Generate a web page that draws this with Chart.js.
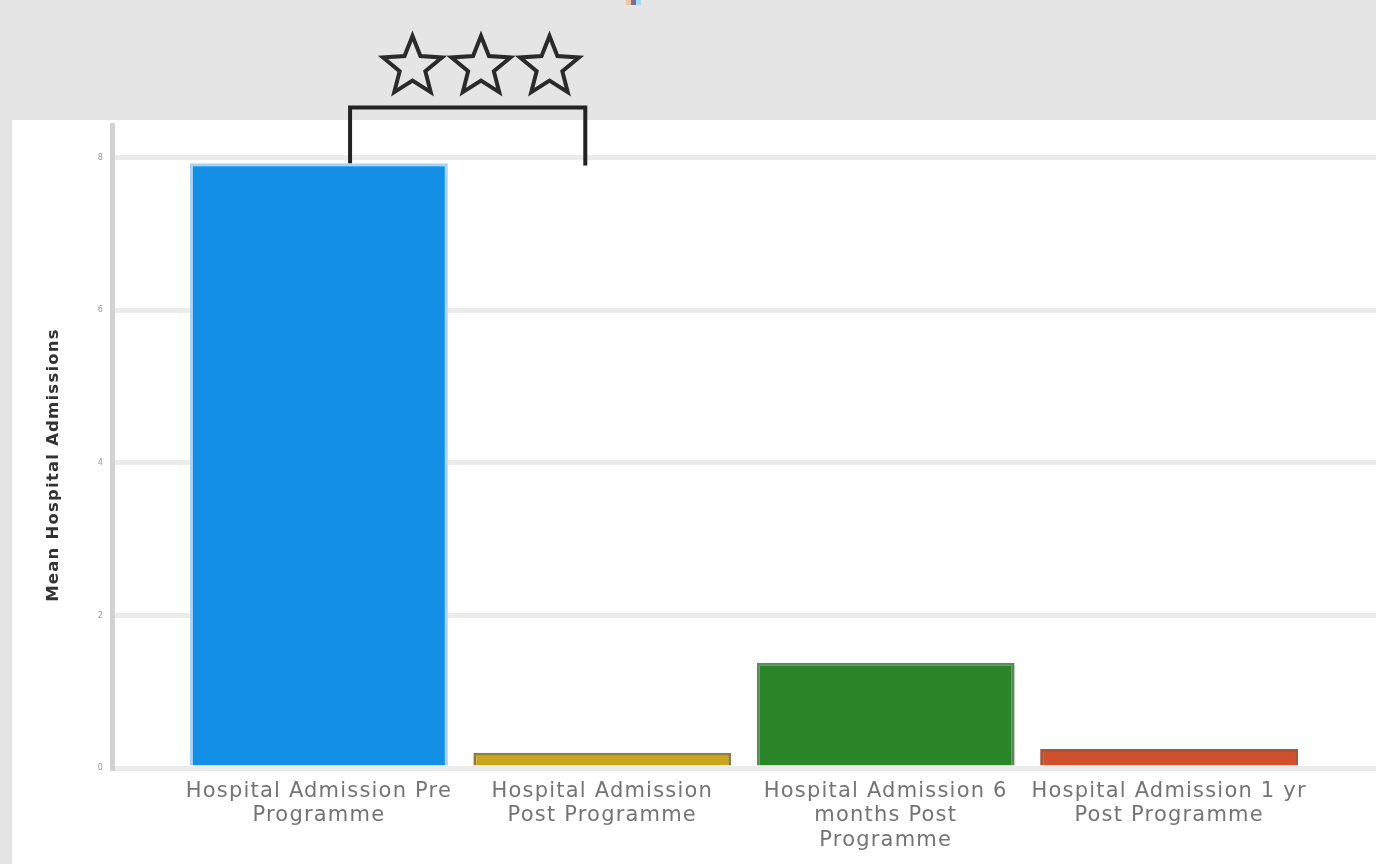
<!DOCTYPE html>
<html><head><meta charset="utf-8">
<script src="https://cdn.jsdelivr.net/npm/chart.js@4/dist/chart.umd.min.js"></script>
<style>html,body{margin:0;padding:0;background:#e5e5e5;overflow:hidden}#wrap{width:1376px;height:864px;position:relative}</style>
</head><body><div id="wrap"><canvas id="c" width="1376" height="864"></canvas></div>
<script>
const categories = [
  ["Hospital Admission Pre", "Programme"],
  ["Hospital Admission", "Post Programme"],
  ["Hospital Admission 6", "months Post", "Programme"],
  ["Hospital Admission 1 yr", "Post Programme"]
];
const meanAdmissions = [7.93, 0.2, 1.38, 0.25];
const barColors = ['#1390e6', '#c9a51c', '#2a8528', '#d04f2c'];
const barBorders = ['#a6d3f7', '#8d7d3e', '#5b8a5b', '#a8553e'];
const yTicks = [0, 2, 4, 6, 8];
const yTitle = 'Mean Hospital Admissions';
// significance bracket (data units) between group 0 and group 1
const bracketX = [0.11, 0.94];
const bracketY = [8.66, 7.93, 7.90]; // top, left leg end, right leg end
const starCentre = [0.572, 9.19];
const starCount = 3;

const decor = {
  id: 'decor',
  beforeDraw(chart) {
    const ctx = chart.ctx;
    ctx.save();
    ctx.fillStyle = '#e5e5e5';
    ctx.fillRect(0, 0, chart.width, chart.height);
    ctx.fillStyle = '#ffffff';
    ctx.fillRect(12, 120, chart.width - 12, chart.height - 120);
    // clipped legend remnant at top
    ctx.fillStyle = '#e9c99c'; ctx.fillRect(626, 0, 5, 5);
    ctx.fillStyle = '#7c6d99'; ctx.fillRect(631, 0, 5, 5);
    ctx.fillStyle = '#aadaf2'; ctx.fillRect(636, 0, 5, 5);
    ctx.restore();
    ctx.letterSpacing = '1.2px';
  },
  afterDraw(chart) {
    const ctx = chart.ctx;
    const xs = chart.scales.x, ys = chart.scales.y;
    // y title
    ctx.save();
    ctx.translate(54, 465);
    ctx.rotate(-Math.PI / 2);
    ctx.font = 'bold 16.5px "DejaVu Sans"';
    ctx.fillStyle = '#333333';
    ctx.textAlign = 'center';
    ctx.textBaseline = 'middle';
    ctx.fillText(yTitle, 0, 0);
    ctx.restore();
    // bracket
    const xl = xs.getPixelForValue(bracketX[0]), xr = xs.getPixelForValue(bracketX[1]);
    const yt = ys.getPixelForValue(bracketY[0]);
    ctx.save();
    ctx.strokeStyle = '#222222';
    ctx.lineWidth = 4;
    ctx.lineJoin = 'miter';
    ctx.beginPath();
    ctx.moveTo(xl, ys.getPixelForValue(bracketY[1]));
    ctx.lineTo(xl, yt);
    ctx.lineTo(xr, yt);
    ctx.lineTo(xr, ys.getPixelForValue(bracketY[2]));
    ctx.stroke();
    // stars
    const cx = xs.getPixelForValue(starCentre[0]), cy = ys.getPixelForValue(starCentre[1]);
    const R = 31, r = 13.5, gap = 68.5;
    ctx.strokeStyle = '#2a2a2a';
    ctx.lineWidth = 4;
    for (let k = 0; k < starCount; k++) {
      const sx = cx + (k - (starCount - 1) / 2) * gap;
      ctx.beginPath();
      for (let p = 0; p < 10; p++) {
        const ang = -Math.PI / 2 + p * Math.PI / 5;
        const rad = p % 2 === 0 ? R : r;
        const px = sx + rad * Math.cos(ang), py = cy + rad * Math.sin(ang);
        if (p === 0) ctx.moveTo(px, py); else ctx.lineTo(px, py);
      }
      ctx.closePath();
      ctx.stroke();
    }
    ctx.restore();
  }
};

new Chart(document.getElementById('c'), {
  type: 'bar',
  data: {
    datasets: [{
      data: meanAdmissions.map((v, i) => ({ x: i, y: v })),
      backgroundColor: barColors,
      borderColor: barBorders,
      borderWidth: 3,
      categoryPercentage: 1,
      barPercentage: 0.91
    }]
  },
  options: {
    responsive: false,
    animation: false,
    layout: { padding: { top: 125, left: 0, right: 0, bottom: 0 } },
    plugins: { legend: { display: false }, tooltip: { enabled: false } },
    scales: {
      x: {
        type: 'linear',
        offset: false,
        min: -0.73,
        max: 3.73,
        afterBuildTicks(s) { s.ticks = categories.map((c, i) => ({ value: i })); },
        afterFit(s) { s.height = 96; },
        grid: { display: false, drawTicks: false, offset: false },
        border: { display: false },
        ticks: {
          autoSkip: false,
          maxRotation: 0,
          padding: 11,
          color: '#747474',
          font: { family: 'DejaVu Sans', size: 21, lineHeight: 1.17 },
          callback: v => categories[v]
        }
      },
      y: {
        min: 0,
        max: 8.43,
        afterBuildTicks(s) { s.ticks = yTicks.map(v => ({ value: v })); },
        afterFit(s) { s.width = 112; },
        grid: { color: '#ebebeb', lineWidth: 5, drawTicks: false },
        border: { display: true, color: '#d2d2d2', width: 5 },
        ticks: {
          padding: 8,
          color: '#999999',
          font: { family: 'DejaVu Sans', size: 8 }
        }
      }
    }
  },
  plugins: [decor]
});
</script>
</body></html>
